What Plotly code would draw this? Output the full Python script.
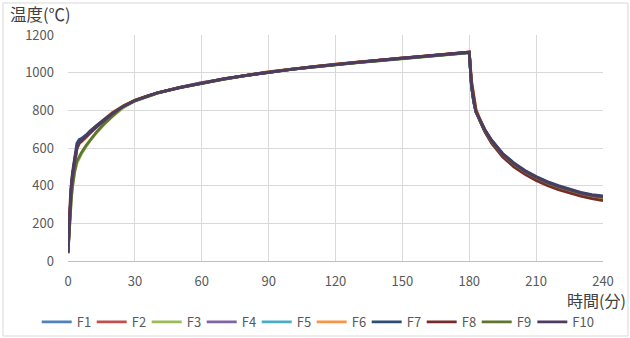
import plotly.graph_objects as go

time_min = [0, 0.5, 1, 1.5, 2, 3, 4, 5, 6, 8, 10, 13, 16, 20, 25, 30, 35, 40, 50, 60,
            70, 80, 90, 100, 110, 120, 130, 140, 150, 160, 170, 175, 180, 181, 182, 183,
            185, 187, 190, 195, 200, 205, 210, 215, 220, 225, 230, 235, 240]

F1 = [40, 160, 280, 375, 440, 530, 595, 625, 636, 656, 683, 714, 746, 782, 821, 851, 872, 893, 920, 945,
      968, 985, 1002, 1019, 1030, 1043, 1056, 1065, 1076, 1088, 1096, 1101, 1107, 930, 845, 790,
      738, 690, 636, 564, 514, 474, 442, 415, 392, 373, 357, 345, 336]
F2 = [50, 200, 320, 400, 455, 540, 598, 624, 634, 655, 682, 715, 748, 785, 823, 853, 874, 891, 922, 947,
      966, 987, 1004, 1017, 1032, 1045, 1054, 1067, 1078, 1086, 1098, 1103, 1109, 940, 855, 798,
      740, 690, 632, 558, 506, 466, 434, 407, 385, 365, 349, 336, 326]
F3 = [42, 150, 250, 330, 390, 470, 520, 548, 568, 605, 640, 683, 722, 768, 815, 849, 871, 890, 919, 944,
      965, 984, 1001, 1016, 1029, 1042, 1053, 1063, 1074, 1085, 1094, 1099, 1105, 932, 848, 793,
      740, 692, 637, 565, 515, 475, 443, 416, 394, 375, 359, 347, 339]
F4 = [46, 180, 300, 390, 448, 538, 602, 628, 637, 657, 685, 717, 744, 784, 823, 853, 872, 893, 921, 947,
      966, 987, 1004, 1017, 1032, 1043, 1056, 1065, 1078, 1086, 1098, 1101, 1108, 933, 848, 792,
      740, 693, 638, 566, 516, 476, 444, 417, 395, 376, 360, 348, 340]
F5 = [44, 185, 305, 395, 455, 548, 612, 636, 645, 664, 690, 720, 748, 785, 822, 851, 873, 892, 922, 945,
      967, 985, 1003, 1018, 1031, 1044, 1055, 1066, 1076, 1087, 1096, 1102, 1107, 934, 849, 794,
      741, 694, 639, 566, 516, 476, 444, 417, 394, 375, 359, 347, 338]
F6 = [48, 190, 310, 392, 450, 537, 597, 622, 633, 656, 684, 718, 750, 790, 826, 854, 874, 892, 921, 946,
      968, 986, 1005, 1019, 1033, 1045, 1057, 1067, 1079, 1089, 1099, 1104, 1110, 960, 870, 810,
      750, 700, 640, 566, 514, 473, 440, 413, 391, 372, 356, 344, 334]
F7 = [47, 195, 320, 410, 470, 560, 625, 645, 650, 668, 692, 722, 750, 786, 823, 852, 873, 893, 921, 946,
      967, 986, 1003, 1018, 1031, 1044, 1055, 1066, 1077, 1087, 1097, 1102, 1108, 928, 845, 792,
      742, 697, 643, 571, 521, 481, 449, 422, 400, 381, 365, 353, 345]
F8 = [52, 205, 325, 402, 458, 542, 600, 626, 636, 657, 683, 716, 746, 784, 822, 852, 874, 892, 921, 946,
      967, 986, 1004, 1018, 1032, 1045, 1056, 1067, 1078, 1088, 1098, 1103, 1110, 955, 862, 800,
      738, 686, 626, 552, 500, 460, 428, 401, 379, 360, 344, 331, 320]
F9 = [43, 155, 255, 335, 395, 480, 530, 555, 575, 612, 645, 688, 726, 772, 825, 850, 872, 891, 920, 945,
      966, 985, 1002, 1017, 1030, 1043, 1054, 1064, 1075, 1086, 1095, 1100, 1106, 931, 847, 792,
      739, 691, 636, 564, 514, 474, 442, 415, 393, 374, 358, 346, 337]
F10 = [45, 175, 295, 385, 445, 535, 600, 630, 638, 658, 684, 716, 745, 783, 822, 852, 873, 892, 921, 946,
       967, 986, 1003, 1018, 1031, 1044, 1055, 1066, 1077, 1087, 1097, 1102, 1108, 935, 850, 795,
       742, 695, 640, 568, 518, 478, 446, 419, 397, 378, 362, 350, 342]

series_names = ["F1", "F2", "F3", "F4", "F5", "F6", "F7", "F8", "F9", "F10"]
series_values = [F1, F2, F3, F4, F5, F6, F7, F8, F9, F10]
series_colors = ["#4F81BD", "#C0504D", "#9BBB59", "#8064A2", "#4BACC6",
                 "#F79646", "#2C4D75", "#772C2A", "#5F7530", "#4D3B62"]

x_ticks = [0, 30, 60, 90, 120, 150, 180, 210, 240]
y_ticks = [0, 200, 400, 600, 800, 1000, 1200]

FONT = "Noto Sans CJK JP"
TICK_COLOR = "#595959"
GRID = "#D9D9D9"

fig = go.Figure()
for i, (name, vals, col) in enumerate(zip(series_names, series_values, series_colors)):
    fig.add_trace(go.Scatter(x=time_min, y=vals, name=name, mode="lines",
                             line=dict(color=col, width=2.8),
                             legend="legend2" if i == len(series_names) - 1 else "legend"))

legend_common = dict(orientation="h", xref="paper", yref="paper", xanchor="left",
                     y=-0.27, yanchor="middle",
                     font=dict(family=FONT, size=13, color=TICK_COLOR),
                     itemwidth=30, tracegroupgap=0, bgcolor="rgba(0,0,0,0)")

fig.update_layout(
    width=630, height=338,
    margin=dict(l=68, r=27, t=35, b=77, autoexpand=False),
    paper_bgcolor="white", plot_bgcolor="white",
    font=dict(family=FONT, size=13, color=TICK_COLOR),
    showlegend=True,
    legend=dict(x=-0.0585, entrywidth=10, entrywidthmode="pixels", **legend_common),
    legend2=dict(x=0.8679, **legend_common),
    xaxis=dict(range=[0, 240], tickvals=x_ticks, showgrid=True, gridcolor=GRID, gridwidth=1,
               zeroline=False, showline=True, linecolor="#BFBFBF", linewidth=1,
               ticks="", ticklabelstandoff=8, tickfont=dict(size=13, color=TICK_COLOR)),
    yaxis=dict(range=[0, 1200], tickvals=y_ticks, showgrid=True, gridcolor=GRID, gridwidth=1,
               zeroline=False, showline=False, ticks="", ticklabelstandoff=13,
               tickfont=dict(size=13, color=TICK_COLOR)),
    annotations=[
        dict(text="温度(℃)", xref="paper", yref="paper", x=-0.112, y=1.094,
             xanchor="left", yanchor="middle", showarrow=False,
             font=dict(family=FONT, size=16.5, color="#404040")),
        dict(text="時間(分)", xref="paper", yref="paper", x=1.046, y=-0.172,
             xanchor="right", yanchor="middle", showarrow=False,
             font=dict(family=FONT, size=16, color="#404040")),
    ],
    shapes=[
        dict(type="rect", xref="paper", yref="paper", x0=-0.1215, x1=1.0467,
             y0=-0.332, y1=1.1416, line=dict(color="#D9D9D9", width=1), layer="below"),
    ],
)

fig.write_html("out.html", config={"displayModeBar": False},
               post_script="document.body.style.margin='0';")
